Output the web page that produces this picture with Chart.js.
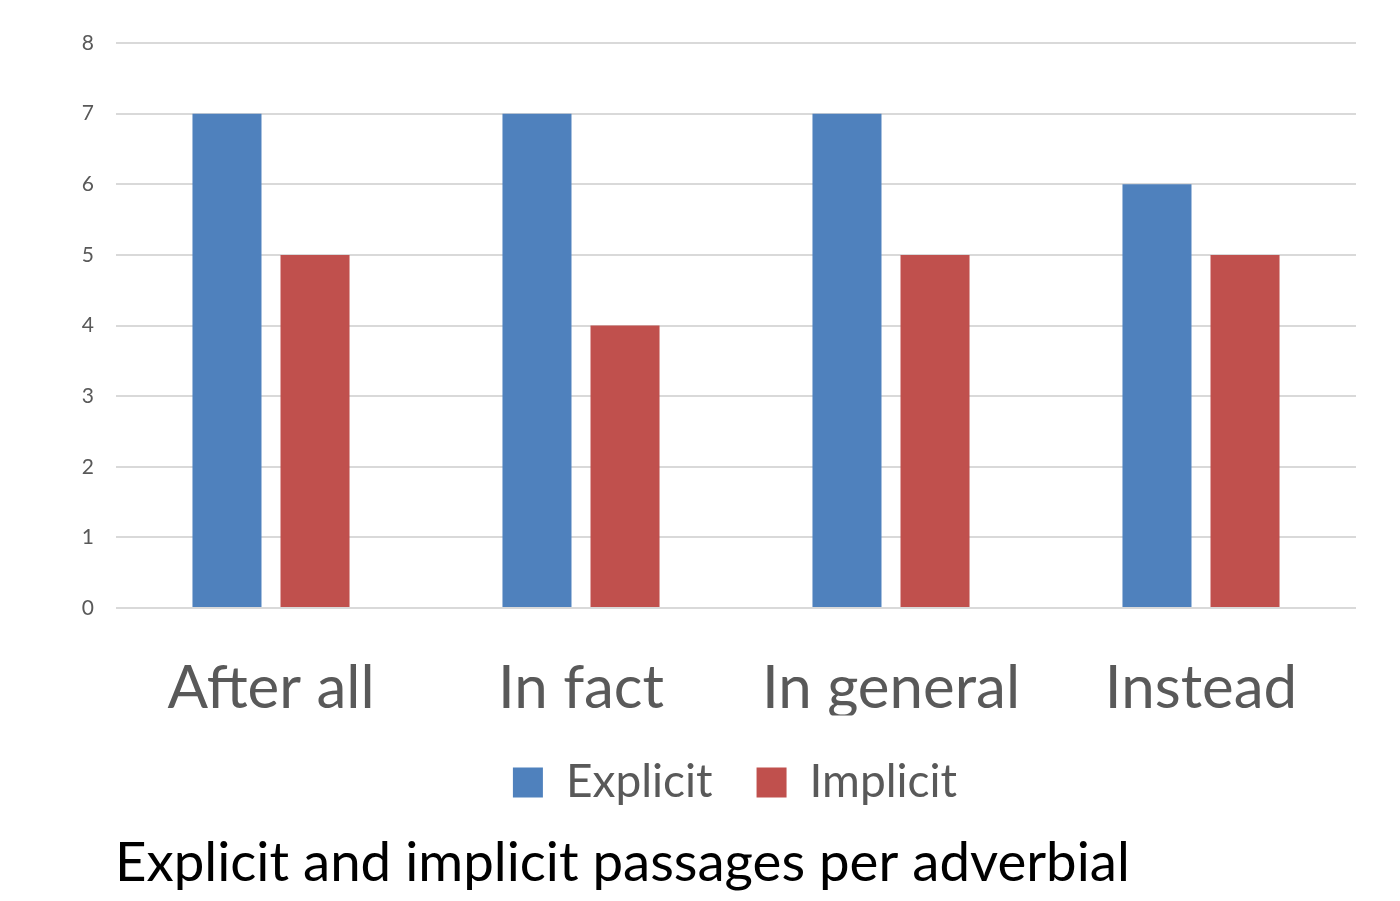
<!DOCTYPE html>
<html>
<head>
<meta charset="utf-8">
<script src="https://cdn.jsdelivr.net/npm/chart.js@4.4.1/dist/chart.umd.min.js"></script>
<style>
  html, body { margin: 0; padding: 0; background: #ffffff; }
  #wrap { width: 1400px; height: 901px; position: relative; }
</style>
</head>
<body>
<div id="wrap"><canvas id="chart" width="1400" height="901"></canvas></div>
<script>
// Passage counts per adverbial
const categories = ['After all', 'In fact', 'In general', 'Instead'];
const explicitCounts = [7, 7, 7, 6];
const implicitCounts = [5, 4, 5, 5];
const yTicks = [0, 1, 2, 3, 4, 5, 6, 7, 8];
const chartTitle = 'Explicit and implicit passages per adverbial';

const FONT = 'Lato, "Open Sans", sans-serif';
const GREY = '#595959';

// Caption drawn under the legend, left-aligned with the plot area
const captionPlugin = {
  id: 'caption',
  afterDraw(chart) {
    const ctx = chart.ctx;
    ctx.save();
    ctx.font = '54.6px ' + FONT;
    ctx.fillStyle = '#000000';
    ctx.textAlign = 'left';
    ctx.textBaseline = 'alphabetic';
    ctx.fillText(chartTitle, chart.chartArea.left - 1, 881);
    ctx.restore();
  }
};

// Centre the legend under the plot area rather than under the whole canvas
const legendShiftPlugin = {
  id: 'legendShift',
  afterLayout(chart) {
    const lg = chart.legend;
    if (!lg) return;
    const shift = (chart.chartArea.left + chart.chartArea.right) / 2 - (lg.left + lg.right) / 2 - 1;
    lg.left += shift;
    lg.right += shift;
  }
};

new Chart(document.getElementById('chart'), {
  type: 'bar',
  data: {
    labels: categories,
    datasets: [
      { label: 'Explicit', data: explicitCounts, backgroundColor: '#4F81BD', borderWidth: 0 },
      { label: 'Implicit', data: implicitCounts, backgroundColor: '#C0504D', borderWidth: 0 }
    ]
  },
  options: {
    responsive: false,
    animation: false,
    devicePixelRatio: 1,
    categoryPercentage: 0.568,
    barPercentage: 0.784,
    layout: { padding: { top: 43, right: 44, bottom: 85.5, left: 0 } },
    scales: {
      x: {
        grid: { display: false },
        border: { display: false },
        ticks: { color: GREY, font: { family: FONT, size: 60 }, padding: 37 },
        afterFit(scale) { scale.height = 107.5; }
      },
      y: {
        min: 0,
        max: 8,
        afterBuildTicks(scale) { scale.ticks = yTicks.map(v => ({ value: v })); },
        afterFit(scale) { scale.width = 116; },
        grid: { color: '#d9d9d9', lineWidth: 2, drawTicks: false },
        border: { display: false },
        ticks: { color: GREY, font: { family: FONT, size: 21 }, padding: 22 }
      }
    },
    plugins: {
      legend: {
        position: 'bottom',
        labels: {
          color: GREY,
          font: { family: FONT, size: 46 },
          boxWidth: 30,
          boxHeight: 30,
          padding: 44
        }
      },
      title: { display: false },
      tooltip: { enabled: false }
    }
  },
  plugins: [captionPlugin, legendShiftPlugin]
});
</script>
</body>
</html>
